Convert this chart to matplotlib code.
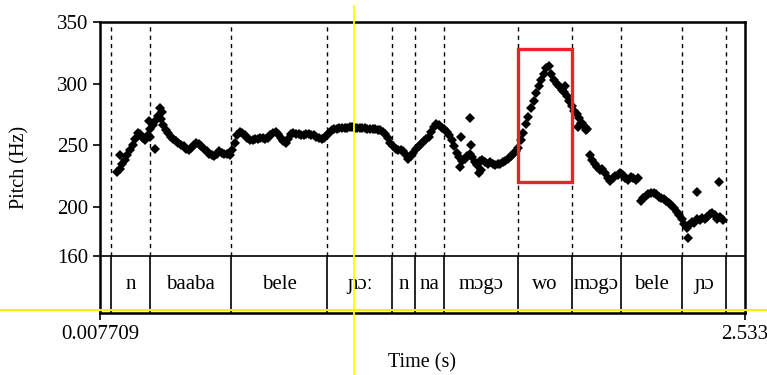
import numpy as np
import matplotlib.pyplot as plt
from matplotlib.patches import Rectangle

plt.rcParams['font.family'] = ['Liberation Serif', 'DejaVu Serif']

# time range of the sound (s)
t_start = 0.007709
t_end = 2.533

# text grid: interval boundaries (s) and labels
bounds = [0.0496, 0.2035, 0.5218, 0.8953, 1.1521, 1.2398, 1.3546,
          1.6455, 1.8546, 2.0464, 2.2876, 2.4587]
words = ['n', 'baaba', 'bele', 'ɲɔː', 'n', 'na', 'mɔgɔ', 'wo', 'mɔgɔ',
         'bele', 'ɲɔ', '']

# pitch frames every 10 ms, three voiced stretches
frame_step = 0.01
seg1_t0 = 0.075
seg1_hz = [228, 231, 235, 238, 242, 246, 250, 255, 260, 259,
           256, 254, 258, 263, 266, 270, 274, 271, 266, 262,
           260, 257, 255, 253, 252, 250, 249, 247, 246, 248,
           250, 252, 251, 249, 247, 245, 243, 242, 241, 243,
           245, 244, 243, 243, 242, 246, 252, 258, 261, 260,
           258, 256, 254, 254, 255, 255, 256, 256, 255, 256,
           258, 260, 261, 259, 256, 253, 252, 255, 259, 260,
           259, 259, 258, 258, 259, 259, 258, 258, 257, 256,
           255, 256, 258, 260, 262, 263, 263, 264, 264, 264,
           264, 265, 265, 264, 264, 264, 264, 264, 263, 263,
           263, 263, 262, 262, 261, 259, 256, 252, 249, 247,
           246, 246, 245, 242, 239, 241, 244, 247, 249, 251,
           253, 255, 257, 261, 265, 267, 266, 264, 263, 261,
           258, 254, 249, 244, 240, 237, 239, 241, 243, 240,
           236, 234, 237, 238, 236, 235, 236, 235, 234, 235,
           235, 236, 237, 239, 241, 243, 245, 248, 254, 260,
           267, 273, 280, 286, 292, 298, 303, 308, 313, 314,
           308, 303, 300, 298, 295, 293, 290, 286, 282, 278,
           275, 272, 268, 265, 263]
seg2_t0 = 1.925
seg2_hz = [242, 238, 235, 232, 230, 231, 227, 223, 221, 223,
           225, 226, 227, 226, 223, 222, 224, 223, 222, 223]
seg3_t0 = 2.125
seg3_hz = [205, 207, 209, 210, 211, 211, 210, 208, 207, 206,
           205, 203, 201, 199, 196, 193, 190, 186, 183, 185,
           188, 187, 190, 189, 191, 190, 192, 194, 195, 193,
           190, 192, 189]
# stray pitch points
stray_t = [0.085, 0.200, 0.205, 0.225, 0.243, 0.250, 1.417, 1.420, 1.455,
           1.460, 1.490, 1.500, 1.830, 1.880, 1.890, 1.910, 2.310, 2.345, 2.430]
stray_hz = [242, 270, 257, 247, 280, 277, 232, 257, 272,
            250, 227, 230, 298, 265, 268, 262, 175, 212, 220]

# highlighted region
box_t = (1.6455, 1.8546)
box_hz = (220, 328)

y_bottom = 113.7  # lower edge of the text tier
tier_top = 160

fig = plt.figure(figsize=(7.67, 3.75), dpi=100)
ax = fig.add_axes([100 / 767, 1 - 313 / 375, 645 / 767, 291 / 375])

for t0, vals in [(seg1_t0, seg1_hz), (seg2_t0, seg2_hz), (seg3_t0, seg3_hz)]:
    tt = t0 + frame_step * np.arange(len(vals))
    ax.plot(tt, vals, 'D', color='black', ms=4.8, mew=0)
ax.plot(stray_t, stray_hz, 'D', color='black', ms=4.8, mew=0)

# boundaries: dotted over the pitch, solid in the tier
for b in bounds:
    ax.plot([b, b], [tier_top, 350], color='black', lw=1, ls=(0, (3, 3)))
    ax.plot([b, b], [y_bottom, tier_top], color='black', lw=1.2)
ax.axhline(tier_top, color='black', lw=1.2)

# tier labels
edges = bounds + [t_end]
for i, w in enumerate(words):
    ax.text((edges[i] + edges[i + 1]) / 2, 137, w, ha='center', va='center',
            fontsize=15)

ax.add_patch(Rectangle((box_t[0], box_hz[0]), box_t[1] - box_t[0],
                       box_hz[1] - box_hz[0], fill=False,
                       edgecolor='#e8242a', lw=2.4, zorder=5))

ax.set_xlim(t_start, t_end)
ax.set_ylim(y_bottom, 350)
ax.set_yticks([160, 200, 250, 300, 350])
ax.set_xticks([t_start, t_end])
ax.set_xticklabels(['0.007709', '2.533'])
ax.tick_params(labelsize=15, length=5, width=1.2, direction='out')
for s in ax.spines.values():
    s.set_linewidth(1.8)
ax.set_xlabel('Time (s)', fontsize=14.5, labelpad=7)
ax.set_ylabel('Pitch (Hz)', fontsize=14.5, labelpad=20)

# yellow cursor lines across the window
fig.add_artist(plt.Line2D([354 / 767, 354 / 767], [0, 1 - 6 / 375],
                          color='#ffff00', lw=1.3))
fig.add_artist(plt.Line2D([0, 1], [1 - 310 / 375, 1 - 310 / 375],
                          color='#f5f000', lw=1.5))

fig.savefig('out.png', dpi=100)
